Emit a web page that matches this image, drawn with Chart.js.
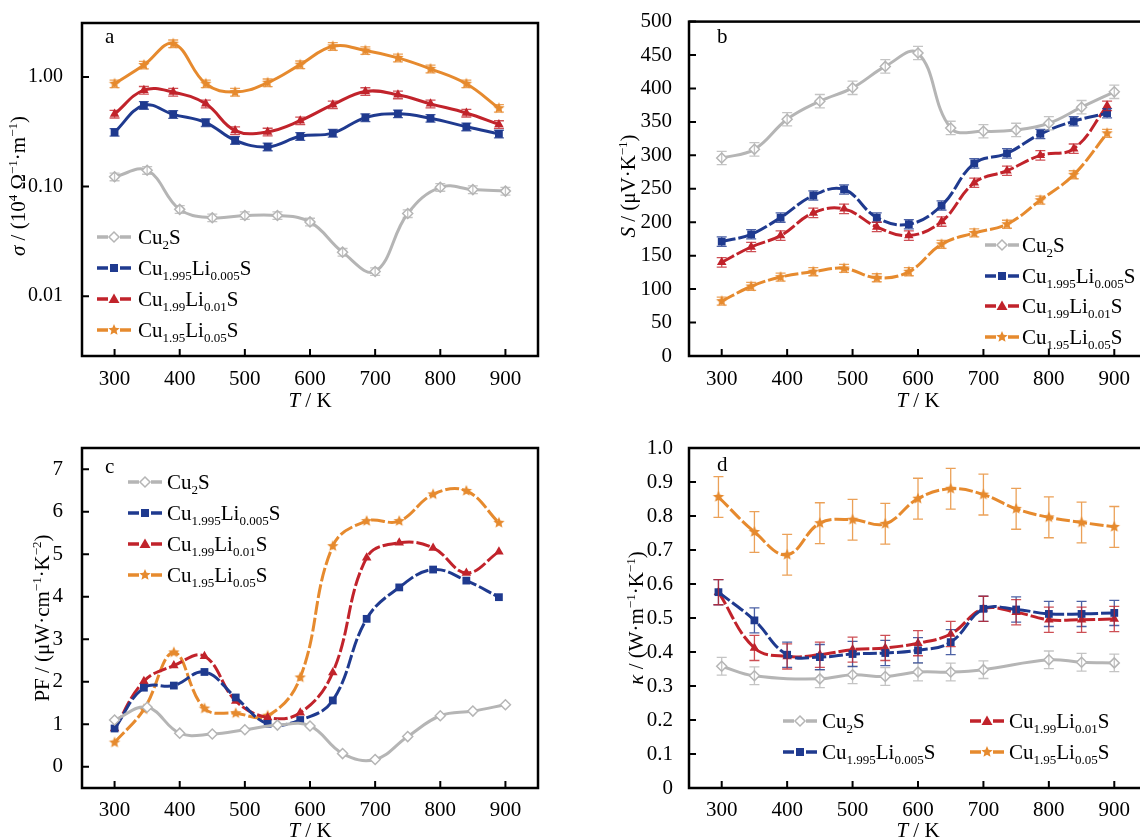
<!DOCTYPE html>
<html>
<head>
<meta charset="utf-8">
<script src="https://cdn.jsdelivr.net/npm/chart.js@4.4.1/dist/chart.umd.min.js"></script>
<style>
	html, body { margin: 0; padding: 0; background: #fff; width: 1140px; height: 838px; overflow: hidden; position: relative; }
	canvas { position: absolute; }
</style>
</head>
<body>
<canvas id="pa" width="570" height="420" style="left:0;top:0"></canvas>
<canvas id="pb" width="600" height="420" style="left:570px;top:0"></canvas>
<canvas id="pc" width="570" height="420" style="left:0;top:420px"></canvas>
<canvas id="pd" width="600" height="420" style="left:570px;top:420px"></canvas>
<script>
// Cu2-xLixS thermoelectric properties, four panels

// ---- data -------------------------------------------------------------
const xTicks = [300, 400, 500, 600, 700, 800, 900]

// (a) electrical conductivity, 10^4 S/m (log axis)
const aTicks     = [0.01, 0.1, 1]
const aT_gray    = [300, 350, 400, 450, 500, 550, 600, 650, 700, 750, 800, 850, 900]
const aT_doped   = [300, 345, 390, 440, 485, 535, 585, 635, 685, 735, 785, 840, 890]
const aSigGray   = [0.123, 0.141, 0.062, 0.052, 0.0545, 0.0545, 0.0476, 0.0252, 0.0168, 0.0568, 0.0986, 0.094, 0.091]
const aSigBlue   = [0.314, 0.553, 0.457, 0.385, 0.265, 0.231, 0.288, 0.308, 0.427, 0.463, 0.421, 0.352, 0.303]
const aSigRed    = [0.46, 0.76, 0.73, 0.57, 0.325, 0.316, 0.40, 0.56, 0.74, 0.69, 0.57, 0.47, 0.37]
const aSigOrange = [0.87, 1.29, 2.02, 0.87, 0.73, 0.89, 1.30, 1.91, 1.75, 1.50, 1.19, 0.87, 0.52]
const aErrRel    = 0.08

// (b) Seebeck coefficient, uV/K
const bTicks   = [0, 50, 100, 150, 200, 250, 300, 350, 400, 450, 500]
const bT_gray  = [300, 350, 400, 450, 500, 550, 600, 650, 700, 750, 800, 850, 900]
const bT_doped = [300, 345, 390, 440, 487, 537, 586, 636, 686, 736, 787, 838, 889]
const bSGray   = [296, 309, 354, 381, 401, 433, 453, 341, 336, 338, 348, 372, 395]
const bSBlue   = [171, 182, 207, 240, 249, 207, 197, 225, 288, 303, 332, 351, 363]
const bSRed    = [140, 163, 180, 214, 220, 193, 180, 201, 259, 277, 300, 310, 374]
const bSOrange = [82, 104, 118, 126, 131, 117, 126, 167, 184, 197, 233, 271, 333]
const bErr     = [10, 7, 7, 6]

// (c) power factor, uW cm^-1 K^-2
const cTicks    = [0, 1, 2, 3, 4, 5, 6, 7]
const cT_gray   = [300, 350, 400, 450, 500, 550, 600, 650, 700, 750, 800, 850, 900]
const cT_doped  = [300, 345, 391, 438, 486, 535, 585, 635, 687, 737, 789, 840, 890]
const cPfGray   = [1.10, 1.40, 0.79, 0.77, 0.87, 0.98, 0.96, 0.31, 0.17, 0.71, 1.20, 1.31, 1.46]
const cPfBlue   = [0.90, 1.86, 1.91, 2.23, 1.63, 1.01, 1.10, 1.56, 3.48, 4.22, 4.64, 4.38, 3.99]
const cPfRed    = [0.90, 2.01, 2.38, 2.60, 1.55, 1.16, 1.27, 2.22, 4.92, 5.27, 5.15, 4.56, 5.06]
const cPfOrange = [0.57, 1.35, 2.69, 1.37, 1.26, 1.20, 2.10, 5.19, 5.78, 5.78, 6.41, 6.49, 5.74]

// (d) thermal conductivity, W m^-1 K^-1
const dTicks   = [0, 0.1, 0.2, 0.3, 0.4, 0.5, 0.6, 0.7, 0.8, 0.9, 1.0]
const dT_gray  = [300, 350, 450, 500, 550, 600, 650, 700, 800, 850, 900]
const dT_doped = [295, 350, 400, 450, 500, 550, 600, 650, 700, 750, 800, 850, 900]
const dKGray   = [0.358, 0.330, 0.321, 0.333, 0.328, 0.341, 0.341, 0.348, 0.377, 0.370, 0.368]
const dKBlue   = [0.576, 0.493, 0.392, 0.385, 0.394, 0.397, 0.405, 0.429, 0.527, 0.525, 0.512, 0.512, 0.515]
const dKRed    = [0.576, 0.412, 0.387, 0.392, 0.407, 0.412, 0.426, 0.453, 0.527, 0.517, 0.495, 0.495, 0.497]
const dKOrange = [0.856, 0.753, 0.686, 0.779, 0.789, 0.777, 0.851, 0.880, 0.863, 0.821, 0.796, 0.781, 0.768]
const dErr     = [0.026, 0.037, 0.037, 0.06]

const legendNames = [
	[['Cu', ''], ['2', 'sub'], ['S', '']],
	[['Cu', ''], ['1.995', 'sub'], ['Li', ''], ['0.005', 'sub'], ['S', '']],
	[['Cu', ''], ['1.99', 'sub'], ['Li', ''], ['0.01', 'sub'], ['S', '']],
	[['Cu', ''], ['1.95', 'sub'], ['Li', ''], ['0.05', 'sub'], ['S', '']],
]

// ---- styling helpers ----------------------------------------------------
const FONT = '"Liberation Serif", "Times New Roman", serif'
const STY  = [
	{ color : '#b5b5b5', marker : 'diamond' },
	{ color : '#1f3a8f', marker : 'square' },
	{ color : '#c1232b', marker : 'triangle' },
	{ color : '#e68a2e', marker : 'star' },
]

const starImg = (color, r) => {
	const c = document.createElement('canvas')
	const s = Math.ceil(r * 2 + 2)
	c.width = c.height = s
	const g = c.getContext('2d')
	g.fillStyle = color
	g.beginPath()
	for ( let i = 0; i < 10; i++ ) {
		const a  = -Math.PI / 2 + i * Math.PI / 5
		const rr = i % 2 ? r * 0.45 : r
		g.lineTo(s / 2 + rr * Math.cos(a), s / 2 + rr * Math.sin(a))
	}
	g.closePath()
	g.fill()
	return c
}
const STAR = starImg(STY[3].color, 6)

const drawRich = (ctx, parts, x, y, size, align = 'left') => {
	const segs = []
	let   w    = 0
	for ( const [t, k] of parts ) {
		const small = k === 'sub' || k === 'sup'
		const fs    = small ? Math.round(size * 0.64) : size
		const font  = `${k === 'i' ? 'italic ' : ''}${fs}px ${FONT}`
		ctx.font = font
		segs.push({ t, font, x : w, dy : k === 'sub' ? size * 0.22 : k === 'sup' ? -size * 0.4 : 0 })
		w += ctx.measureText(t).width
	}
	const x0   = align === 'center' ? x - w / 2 : x
	const base = y + size * 0.33
	ctx.textAlign    = 'left'
	ctx.textBaseline = 'alphabetic'
	ctx.fillStyle    = '#000'
	for ( const s of segs ) { ctx.font = s.font; ctx.fillText(s.t, x0 + s.x, base + s.dy) }
}

const drawMarker = (ctx, kind, x, y) => {
	const col = STY[['diamond', 'square', 'triangle', 'star'].indexOf(kind)].color
	ctx.save()
	ctx.fillStyle = col
	ctx.strokeStyle = col
	ctx.lineWidth = 1.5
	ctx.beginPath()
	if ( kind === 'diamond' ) {
		ctx.moveTo(x, y - 5); ctx.lineTo(x + 5, y); ctx.lineTo(x, y + 5); ctx.lineTo(x - 5, y); ctx.closePath()
		ctx.fillStyle = '#fff'; ctx.fill(); ctx.stroke()
	} else if ( kind === 'square' ) {
		ctx.rect(x - 4, y - 4, 8, 8); ctx.fill()
	} else if ( kind === 'triangle' ) {
		ctx.moveTo(x, y - 5.5); ctx.lineTo(x + 5.5, y + 4); ctx.lineTo(x - 5.5, y + 4); ctx.closePath(); ctx.fill()
	} else {
		ctx.drawImage(STAR, x - STAR.width / 2, y - STAR.height / 2)
	}
	ctx.restore()
}

// frame, inner ticks, titles, legend and error bars
const decor = {
	id : 'decor',
	afterDatasetsDraw(chart, args, o) {
		const { ctx } = chart
		const yS = chart.scales.y
		ctx.save()
		ctx.lineWidth = 1.3
		chart.data.datasets.forEach((ds, i) => {
			if ( ds.err === undefined ) { return }
			const meta = chart.getDatasetMeta(i)
			ctx.strokeStyle = ds.borderColor
			ctx.globalAlpha = 0.8
			meta.data.forEach((pt, j) => {
				const v  = ds.data[j].y
				const lo = o.relErr ? v * (1 - ds.err) : v - ds.err
				const hi = o.relErr ? v * (1 + ds.err) : v + ds.err
				const y1 = yS.getPixelForValue(lo)
				const y2 = yS.getPixelForValue(hi)
				ctx.beginPath()
				ctx.moveTo(pt.x, y1); ctx.lineTo(pt.x, y2)
				ctx.moveTo(pt.x - 5, y1); ctx.lineTo(pt.x + 5, y1)
				ctx.moveTo(pt.x - 5, y2); ctx.lineTo(pt.x + 5, y2)
				ctx.stroke()
			})
		})
		ctx.restore()
	},
	afterDraw(chart, args, o) {
		const { ctx, chartArea : a } = chart
		const xS = chart.scales.x
		const yS = chart.scales.y
		ctx.save()
		ctx.strokeStyle = '#000'
		ctx.lineWidth = 2.5
		ctx.strokeRect(a.left, a.top, a.right - a.left, a.bottom - a.top)
		ctx.lineWidth = 2
		ctx.beginPath()
		xS.ticks.forEach((t) => { const px = xS.getPixelForValue(t.value); ctx.moveTo(px, a.bottom); ctx.lineTo(px, a.bottom - 7) })
		yS.ticks.forEach((t) => { const py = yS.getPixelForValue(t.value); ctx.moveTo(a.left, py); ctx.lineTo(a.left + 7, py) })
		ctx.stroke()

		// panel letter
		ctx.font = `21px ${FONT}`
		ctx.fillStyle = '#000'
		ctx.textAlign = 'left'
		ctx.textBaseline = 'middle'
		ctx.fillText(o.letter, o.letterPos[0], o.letterPos[1])

		// axis titles
		drawRich(ctx, [['T', 'i'], [' / K', '']], (a.left + a.right) / 2, o.xTitleY, 21, 'center')
		ctx.save()
		ctx.translate(o.yTitlePos[0], o.yTitlePos[1])
		ctx.rotate(-Math.PI / 2)
		drawRich(ctx, o.yTitle, 0, 0, 21, 'center')
		ctx.restore()

		// legend
		o.legend.forEach(([lx, ly], i) => {
			const mid = lx + 17
			ctx.strokeStyle = STY[i].color
			ctx.lineWidth = 3.5
			ctx.beginPath()
			ctx.moveTo(lx, ly); ctx.lineTo(mid - 6, ly)
			ctx.moveTo(mid + 6, ly); ctx.lineTo(lx + 34, ly)
			ctx.stroke()
			drawMarker(ctx, STY[i].marker, mid, ly)
			drawRich(ctx, legendNames[i], lx + 34 + o.legendGap, ly, 21)
		})
		ctx.restore()
	},
}

const pts = (xs, ys) => xs.map((x, i) => ({ x, y : ys[i] }))

const makeChart = (id, { series, errs, dash, yScale, box, decorOpts }) => {
	const cv = document.getElementById(id)
	new Chart(cv, {
		type : 'line',
		data : {
			datasets : series.map(([xs, ys], i) => ({
				data             : pts(xs, ys),
				borderColor      : STY[i].color,
				backgroundColor  : i === 0 ? '#fff' : STY[i].color,
				pointBackgroundColor : i === 0 ? '#fff' : STY[i].color,
				pointBorderColor : STY[i].color,
				pointBorderWidth : i === 0 ? 1.5 : 0,
				pointStyle       : ['rectRot', 'rect', 'triangle', STAR][i],
				pointRadius      : [5, 5.5, 5.5, 6][i],
				borderWidth      : 3,
				borderDash       : dash && i > 0 ? [14, 3] : [],
				tension          : 0.4,
				err              : errs ? errs[i] : undefined,
			})),
		},
		options : {
			responsive  : false,
			animation   : false,
			devicePixelRatio : 1,
			layout      : { padding : { top : box.top, right : cv.width - box.right, left : 0, bottom : 0 } },
			plugins     : {
				legend  : { display : false },
				tooltip : { enabled : false },
				decor   : decorOpts,
			},
			scales : {
				x : {
					type   : 'linear',
					min    : 250,
					max    : 950,
					grid   : { display : false },
					border : { display : false },
					afterBuildTicks : (s) => { s.ticks = xTicks.map((v) => ({ value : v })) },
					afterFit : (s) => { s.height = cv.height - box.bottom },
					ticks  : { color : '#000', font : { family : FONT, size : 21 }, padding : box.xPad, maxRotation : 0, autoSkip : false },
				},
				y : {
					...yScale,
					grid   : { display : false },
					border : { display : false },
					afterFit : (s) => { s.width = box.left },
					ticks  : { color : '#000', font : { family : FONT, size : box.ySize || 21 }, padding : box.yPad, autoSkip : false, callback : yScale.fmt },
				},
			},
		},
		plugins : [decor],
	})
}

makeChart('pa', {
	series : [[aT_gray, aSigGray], [aT_doped, aSigBlue], [aT_doped, aSigRed], [aT_doped, aSigOrange]],
	errs   : [aErrRel, aErrRel, aErrRel, aErrRel],
	dash   : false,
	yScale : {
		type : 'logarithmic', min : 0.00284, max : 3.12,
		afterBuildTicks : (s) => { s.ticks = aTicks.map((v) => ({ value : v })) },
		fmt  : (v) => Number(v).toFixed(2),
	},
	box : { left : 82, right : 538, top : 16, bottom : 356, xPad : 3, yPad : 11, ySize : 20 },
	decorOpts : {
		relErr : true, letter : 'a', letterPos : [105, 37], xTitleY : 400, yTitlePos : [18, 186],
		yTitle : [['σ', 'i'], [' / (10', ''], ['4', 'sup'], [' Ω', ''], ['−1', 'sup'], ['·m', ''], ['−1', 'sup'], [')', '']],
		legend : [[97, 237], [97, 268], [97, 299], [97, 330]], legendGap : 7,
	},
})

makeChart('pb', {
	series : [[bT_gray, bSGray], [bT_doped, bSBlue], [bT_doped, bSRed], [bT_doped, bSOrange]],
	errs   : bErr,
	dash   : true,
	yScale : {
		type : 'linear', min : 0, max : 500,
		afterBuildTicks : (s) => { s.ticks = bTicks.map((v) => ({ value : v })) },
		fmt  : (v) => String(v),
	},
	box : { left : 119, right : 577, top : 17, bottom : 356, xPad : 3, yPad : 9 },
	decorOpts : {
		relErr : false, letter : 'b', letterPos : [147, 37], xTitleY : 400, yTitlePos : [58, 186],
		yTitle : [['S', 'i'], [' / (μV·K', ''], ['−1', 'sup'], [')', '']],
		legend : [[415, 245], [415, 276], [415, 306], [415, 337]], legendGap : 3,
	},
})

makeChart('pc', {
	series : [[cT_gray, cPfGray], [cT_doped, cPfBlue], [cT_doped, cPfRed], [cT_doped, cPfOrange]],
	errs   : null,
	dash   : true,
	yScale : {
		type : 'linear', min : -0.5, max : 7.5,
		afterBuildTicks : (s) => { s.ticks = cTicks.map((v) => ({ value : v })) },
		fmt  : (v) => String(v),
	},
	box : { left : 82, right : 538, top : 28, bottom : 368, xPad : 2, yPad : 11 },
	decorOpts : {
		relErr : false, letter : 'c', letterPos : [105, 47], xTitleY : 410, yTitlePos : [42, 198],
		yTitle : [['PF / (μW·cm', ''], ['−1', 'sup'], ['·K', ''], ['−2', 'sup'], [')', '']],
		legend : [[128, 62], [128, 93], [128, 124], [128, 155]], legendGap : 5,
	},
})

makeChart('pd', {
	series : [[dT_gray, dKGray], [dT_doped, dKBlue], [dT_doped, dKRed], [dT_doped, dKOrange]],
	errs   : dErr,
	dash   : true,
	yScale : {
		type : 'linear', min : 0, max : 1,
		afterBuildTicks : (s) => { s.ticks = dTicks.map((v) => ({ value : v })) },
		fmt  : (v) => v === 0 ? '0' : Number(v).toFixed(1),
	},
	box : { left : 119, right : 577, top : 28, bottom : 368, xPad : 2, yPad : 8 },
	decorOpts : {
		relErr : false, letter : 'd', letterPos : [147, 45], xTitleY : 410, yTitlePos : [66, 198],
		yTitle : [['κ', 'i'], [' / (W·m', ''], ['−1', 'sup'], ['·K', ''], ['−1', 'sup'], [')', '']],
		legend : [[213, 301], [213, 332], [400, 301], [400, 332]], legendGap : 5,
	},
})
</script>
</body>
</html>
